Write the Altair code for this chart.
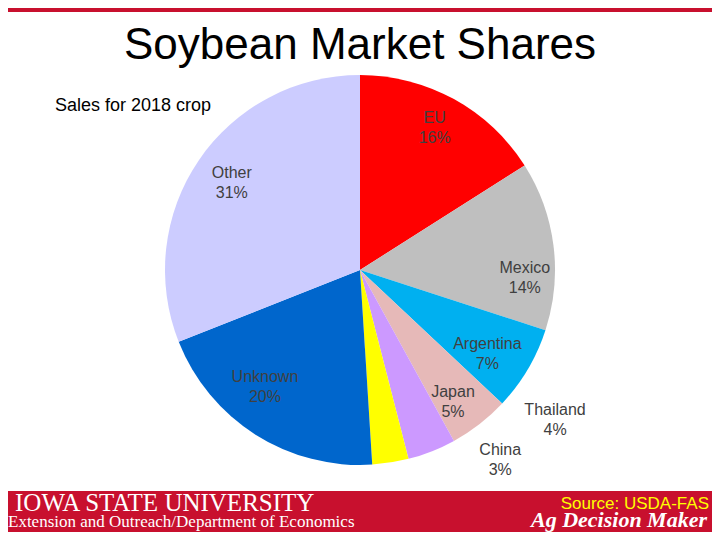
import altair as alt
import pandas as pd
import math

categories = ["EU", "Mexico", "Argentina", "Japan", "Thailand", "China", "Unknown", "Other"]
shares = [16, 14, 7, 5, 4, 3, 20, 31]
slice_colors = ["#FF0000", "#BFBFBF", "#00B0F0", "#E6B9B8", "#CC99FF", "#FFFF00", "#0066CC", "#CCCCFF"]

df = pd.DataFrame({"cat": categories, "val": shares, "idx": list(range(len(categories)))})
df["label"] = df["cat"] + "\n" + df["val"].astype(str) + "%"

W, H = 704, 524
RED = "#C8102E"

theta_scale = alt.Scale(domain=[0, 100], range=[0, 2 * math.pi])

base = alt.Chart(df).transform_stack(
    stack="val", groupby=[], as_=["s0", "s1"], sort=[alt.SortField("idx", order="ascending")]
).transform_calculate(mid="(datum.s0 + datum.s1) / 2")

pie = base.mark_arc(outerRadius=195, stroke=None).encode(
    theta=alt.Theta("s0:Q", scale=theta_scale),
    theta2="s1:Q",
    color=alt.Color("cat:N", scale=alt.Scale(domain=categories, range=slice_colors), legend=None),
)

# label nudges (styling only): dx, dy from the slice-middle point at radius 155
nudges = {
    "EU": (0, -16),
    "Mexico": (11, 17),
    "Argentina": (-6, -5),
    "Japan": (-2, 0),
    "Thailand": (138, -4),
    "China": (116, 27),
    "Unknown": (-12, -24),
    "Other": (0, -10),
}

label_layers = []
for c in categories:
    dx, dy = nudges[c]
    label_layers.append(
        base.transform_filter(alt.datum.cat == c)
        .mark_text(radius=155, dx=dx, dy=dy, fontSize=16, font="Liberation Sans",
                   color="#404040", lineBreak="\n", lineHeight=20, align="center", baseline="middle")
        .encode(theta=alt.Theta("mid:Q", scale=theta_scale), text="label:N")
    )

one = alt.Data(values=[{}])

def txt(text, x, y, **kw):
    return alt.Chart(one).mark_text(text=text, **kw).encode(x=alt.value(x), y=alt.value(y))

top_band = alt.Chart(one).mark_rect(color=RED).encode(
    x=alt.value(0), x2=alt.value(W), y=alt.value(0), y2=alt.value(4))
footer = alt.Chart(one).mark_rect(color=RED).encode(
    x=alt.value(0), x2=alt.value(W), y=alt.value(483), y2=alt.value(H))

title = txt("Soybean Market Shares", 352, 38, fontSize=44, font="Liberation Sans",
            color="black", align="center", baseline="middle")
subtitle = txt("Sales for 2018 crop", 47, 98, fontSize=18, font="Liberation Sans",
               color="black", align="left", baseline="middle")
isu = txt("IOWA STATE UNIVERSITY", 7, 503, fontSize=25, font="Liberation Serif",
          color="white", align="left", baseline="alphabetic")
ext = txt("Extension and Outreach/Department of Economics", 0, 519, fontSize=17,
          font="Liberation Serif", color="white", align="left", baseline="alphabetic")
src = txt("Source: USDA-FAS", 701, 496, fontSize=17, font="Liberation Sans",
          color="#FFFF00", align="right", baseline="middle")
adm = txt("Ag Decision Maker", 699, 519, fontSize=22, font="Liberation Serif",
          fontStyle="italic", fontWeight="bold", color="white", align="right", baseline="alphabetic")

chart = alt.layer(
    top_band, footer, pie, *label_layers, title, subtitle, isu, ext, src, adm
).properties(
    width=W, height=H, padding=0,
    autosize=alt.AutoSizeParams(type="fit", contains="padding"),
).configure_view(stroke=None)

chart.save("out.html", embed_options={"renderer": "svg", "actions": False})
